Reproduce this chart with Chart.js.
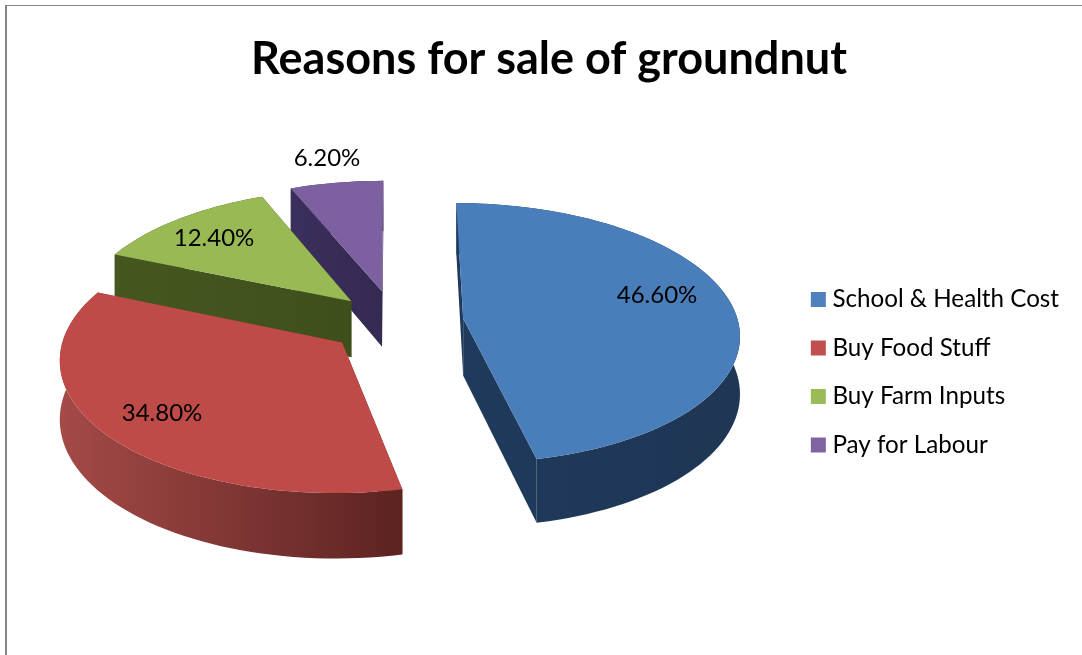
<!doctype html>
<html lang="en">
<head>
    <meta charset="UTF-8">
    <title>Reasons for sale of groundnut</title>
    <script src="https://cdn.jsdelivr.net/npm/chart.js"></script>
    <style>
        html, body { margin: 0; background: #fff; overflow: hidden; }
        #chart { position: absolute; left: 0; top: 0; }
        .frame {
            position: absolute; left: 5px; top: 5px; right: 0; bottom: 0;
            border-top: 1px solid #868686;
            border-left: 2px solid #868686;
            pointer-events: none;
        }
    </style>
</head>
<body>
    <canvas id="chart" width="1082" height="655"></canvas>
    <div class="frame"></div>

    <script>
        const categories = ['School & Health Cost', 'Buy Food Stuff', 'Buy Farm Inputs', 'Pay for Labour'];
        const shares = [46.6, 34.8, 12.4, 6.2];
        const faceColors = ['#4a7ebb', '#be4b48', '#98b954', '#7d60a0'];
        const legendColors = ['#4f81bd', '#c0504d', '#9bbb59', '#8064a2'];
        // darker sides of each slice, left to right
        const wallColors = [
            ['#1f3a5c', '#1f3654'],
            ['#a44a47', '#5c2321'],
            ['#45571f', '#3f4f1c'],
            ['#3b2f5c', '#352a52']
        ];

        // tilted pie, projected onto the canvas with a little perspective
        const pie3d = {
            cx: 395, cy: 322,
            radiusX: 275, radiusY: 129,
            perspective: 0.111,
            depth: 57,
            explode: [0.25, 0.245, 0.23, 0.25],
            drawOrder: [3, 2, 0, 1],
            labelAnchors: [[657, 295], [162, 413], [214, 238], [327, 158]]
        };

        function project(u, v) {
            const s = 1 / (1 + pie3d.perspective * v);
            return {
                x: pie3d.cx + pie3d.radiusX * u * s,
                y: pie3d.cy - pie3d.radiusY * v * s,
                drop: pie3d.depth * s
            };
        }

        // outline of a slice, apex first, from the arc's own angles
        function sliceOutline(arc, index) {
            const from = arc.startAngle + Math.PI / 2;
            const to = arc.endAngle + Math.PI / 2;
            const mid = (from + to) / 2;
            const ax = Math.sin(mid) * pie3d.explode[index];
            const ay = Math.cos(mid) * pie3d.explode[index];
            const steps = Math.ceil((to - from) / (Math.PI / 90));
            const pts = [project(ax, ay)];
            for (let i = 0; i <= steps; i++) {
                const t = from + (to - from) * i / steps;
                pts.push(project(ax + Math.sin(t), ay + Math.cos(t)));
            }
            return pts;
        }

        // fills the band under a run of outline points as one shape
        function fillWall(ctx, run) {
            ctx.beginPath();
            run.forEach((p, i) => i ? ctx.lineTo(p.x, p.y) : ctx.moveTo(p.x, p.y));
            run.slice().reverse().forEach(p => ctx.lineTo(p.x, p.y + p.drop));
            ctx.closePath();
            ctx.fill();
        }

        function drawSlice(ctx, pts, index) {
            const xs = pts.map(p => p.x);
            const wall = ctx.createLinearGradient(Math.min(...xs), 0, Math.max(...xs), 0);
            wall.addColorStop(0, wallColors[index][0]);
            wall.addColorStop(1, wallColors[index][1]);
            ctx.fillStyle = wall;
            fillWall(ctx, [pts[0], pts[1]]);
            fillWall(ctx, [pts[pts.length - 1], pts[0]]);
            fillWall(ctx, pts.slice(1));

            ctx.fillStyle = faceColors[index];
            ctx.beginPath();
            pts.forEach((p, i) => i ? ctx.lineTo(p.x, p.y) : ctx.moveTo(p.x, p.y));
            ctx.closePath();
            ctx.fill();
        }

        const tiltedPie = {
            id: 'tiltedPie',
            beforeDatasetsDraw(chart) {
                const ctx = chart.ctx;
                const arcs = chart.getDatasetMeta(0).data;
                ctx.save();
                pie3d.drawOrder.forEach(i => drawSlice(ctx, sliceOutline(arcs[i], i), i));
                ctx.font = '24px Lato';
                ctx.fillStyle = '#000';
                ctx.textAlign = 'center';
                ctx.textBaseline = 'middle';
                shares.forEach((value, i) => {
                    const [x, y] = pie3d.labelAnchors[i];
                    ctx.fillText(value.toFixed(2) + '%', x, y);
                });
                ctx.restore();
                return false;
            }
        };

        new Chart(document.getElementById('chart'), {
            type: 'pie',
            data: {
                labels: categories,
                datasets: [{
                    data: shares,
                    backgroundColor: legendColors,
                    borderWidth: 0
                }]
            },
            options: {
                responsive: false,
                animation: false,
                layout: { padding: { left: 29, right: 13, bottom: 173.5 } },
                plugins: {
                    tooltip: { enabled: false },
                    title: {
                        display: true,
                        text: 'Reasons for sale of groundnut',
                        color: '#000',
                        font: { family: 'Lato', size: 45, weight: 'bold' },
                        padding: { top: 32, bottom: 20 }
                    },
                    legend: {
                        position: 'right',
                        align: 'end',
                        labels: {
                            color: '#000',
                            font: { family: 'Lato', size: 24.2 },
                            usePointStyle: true,
                            pointStyle: 'rect',
                            boxWidth: 4,
                            boxHeight: 15,
                            padding: 24.3
                        }
                    }
                }
            },
            plugins: [tiltedPie]
        });
    </script>
</body>
</html>
